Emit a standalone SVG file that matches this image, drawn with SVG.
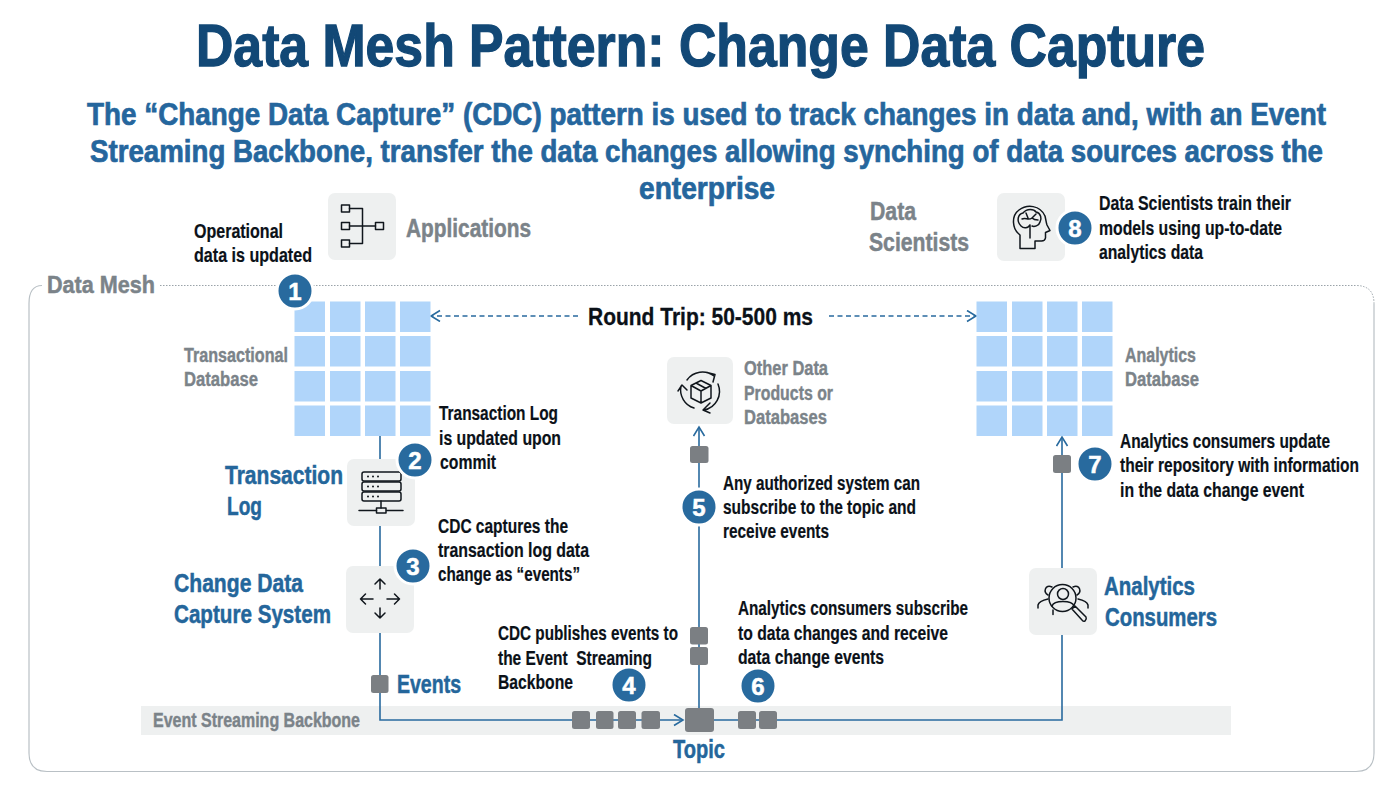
<svg xmlns="http://www.w3.org/2000/svg" width="1400" height="788" viewBox="0 0 1400 788">
<style>
text{font-family:"Liberation Sans Narrow","Liberation Sans",Arial,sans-serif;font-weight:700;}
.title{font-size:60px;fill:#124876;stroke:#124876;stroke-width:1.300}
.sub{font-size:31px;fill:#25669d;stroke:#25669d;stroke-width:.7}
.blk{font-size:20px;fill:#0b1118;stroke:#0b1118;stroke-width:.2}
.blue{font-size:26px;fill:#24669b;stroke:#24669b;stroke-width:.5}
.gry{font-size:26px;fill:#7b8389;stroke:#7b8389;stroke-width:.5}
.gs{font-size:20px;fill:#7b8389;stroke:#7b8389;stroke-width:.4}
.num{font-size:24px;fill:#fff;text-anchor:middle;stroke:#fff;stroke-width:.5}
.box{fill:#eef0f0}
.cell{fill:#b0d5fa}
.ev{fill:#7b7f83}
.badge{fill:#286a9e;stroke:#fff;stroke-width:3}
.ln{fill:none;stroke:#286a9e;stroke-width:1.600}
.dash{fill:none;stroke:#286a9e;stroke-width:1.500;stroke-dasharray:5 3.500}
.ic{fill:none;stroke:#10161c;stroke-width:1.500;stroke-linecap:round;stroke-linejoin:round}
</style>
<defs>
<marker id="open" markerWidth="14" markerHeight="14" refX="10" refY="6" orient="auto" markerUnits="userSpaceOnUse"><path d="M1 0.500 L10 6 L1 11.500" fill="none" stroke="#286a9e" stroke-width="1.600"/></marker>
<g id="grid">
<rect class="cell" x="0" y="0" width="30.500" height="30.500"/><rect class="cell" x="35.500" y="0" width="30.500" height="30.500"/><rect class="cell" x="70.500" y="0" width="30.500" height="30.500"/><rect class="cell" x="105.500" y="0" width="30.500" height="30.500"/>
<rect class="cell" x="0" y="34.500" width="30.500" height="30.500"/><rect class="cell" x="35.500" y="34.500" width="30.500" height="30.500"/><rect class="cell" x="70.500" y="34.500" width="30.500" height="30.500"/><rect class="cell" x="105.500" y="34.500" width="30.500" height="30.500"/>
<rect class="cell" x="0" y="69.500" width="30.500" height="30.500"/><rect class="cell" x="35.500" y="69.500" width="30.500" height="30.500"/><rect class="cell" x="70.500" y="69.500" width="30.500" height="30.500"/><rect class="cell" x="105.500" y="69.500" width="30.500" height="30.500"/>
<rect class="cell" x="0" y="104" width="30.500" height="30.500"/><rect class="cell" x="35.500" y="104" width="30.500" height="30.500"/><rect class="cell" x="70.500" y="104" width="30.500" height="30.500"/><rect class="cell" x="105.500" y="104" width="30.500" height="30.500"/>
</g>
</defs>
<rect width="1400" height="788" fill="#fff"/>
<g id="heading">
<text class="title" x="196" y="65.500" textLength="1009" lengthAdjust="spacingAndGlyphs">Data Mesh Pattern: Change Data Capture</text>
<text class="sub" transform="translate(87 125) scale(.9 1)" x="0" y="0" textLength="1376.700" lengthAdjust="spacingAndGlyphs">The “Change Data Capture” (CDC) pattern is used to track changes in data and, with an Event</text>
<text class="sub" transform="translate(90 162) scale(.9 1)" x="0" y="0" textLength="1370" lengthAdjust="spacingAndGlyphs">Streaming Backbone, transfer the data changes allowing synching of data sources across the</text>
<text class="sub" x="639" y="199" textLength="136" lengthAdjust="spacingAndGlyphs">enterprise</text>
</g>
<g id="data-mesh">
<path d="M160 285.500H1356Q1374 285.500 1374 303.500" fill="none" stroke="#9aa3a9" stroke-width="1" stroke-dasharray="1.500 1.500"/>
<path d="M42 285.500Q29 285.500 29 303.500V753Q29 771.500 47 771.500H1356Q1374 771.500 1374 753V303.500" fill="none" stroke="#b9c0c5" stroke-width="1.200"/>
<text class="gry" x="47" y="293" style="font-size:24px" textLength="108" lengthAdjust="spacingAndGlyphs">Data Mesh</text>
</g>
<g id="event-streaming-backbone">
<rect class="box" x="141" y="706" width="1090" height="29"/>
<text class="gs" x="153" y="727" textLength="207" lengthAdjust="spacingAndGlyphs">Event Streaming Backbone</text>
</g>
<g id="connectors">
<path class="ln" d="M380 436V459M380 526V566M380 633V720H683" marker-end="url(#open)"/>
<path class="ln" d="M699 708V427" marker-end="url(#open)"/>
<path class="ln" d="M714 720H1062V635M1062 568V437" marker-end="url(#open)"/>
<path class="dash" d="M578 316H431" marker-end="url(#open)"/>
<path class="dash" d="M829 316H976" marker-end="url(#open)"/>
</g>
<g id="transactional-database">
<use href="#grid" x="294.500" y="301.500"/>
<text class="gs" x="184" y="362" textLength="104" lengthAdjust="spacingAndGlyphs">Transactional</text>
<text class="gs" x="184" y="386" textLength="74" lengthAdjust="spacingAndGlyphs">Database</text>
</g>
<g id="analytics-database">
<use href="#grid" x="976.500" y="301.500"/>
<text class="gs" x="1125" y="362" textLength="71" lengthAdjust="spacingAndGlyphs">Analytics</text>
<text class="gs" x="1125" y="386" textLength="74" lengthAdjust="spacingAndGlyphs">Database</text>
</g>
<g id="round-trip"><text x="588" y="325" style="font-size:24px;fill:#0b1118;stroke:#0b1118;stroke-width:.3" textLength="225" lengthAdjust="spacingAndGlyphs">Round Trip: 50-500 ms</text></g>
<g id="applications">
<rect class="box" x="328" y="193" width="68" height="67" rx="7"/>
<g class="ic"><rect x="341.500" y="205" width="8" height="7"/><rect x="341.500" y="222.500" width="8" height="7"/><rect x="341.500" y="240" width="8" height="7"/><rect x="375.500" y="222.500" width="8" height="7"/><path d="M349.500 208.500H362.500V243.500H349.500M349.500 226H375.500"/></g>
<text class="gry" x="406" y="237" textLength="125" lengthAdjust="spacingAndGlyphs">Applications</text>
</g>
<g id="data-scientists">
<rect class="box" x="997" y="193" width="68" height="68" rx="7"/>
<g class="ic"><path d="M1020 248.500V235C1012 229 1011 216 1019 210C1027 204 1040 205 1045 216C1046 220 1046 222 1047 225L1050 230.500L1045.500 232.500V238Q1045 241 1041.500 241H1035V248.500Z"/><path d="M1021 226C1016 221 1018 214 1023 213C1027 208 1034 209 1036 212C1041 213 1042 219 1040 222C1039 226 1034 227 1032 226M1021 226C1024 229 1028 228 1030 225M1030 225V238M1022 219C1026 217 1028 221 1032 218L1036 214M1032 218C1034 220 1036 220 1038 220M1026 213L1028 218"/></g>
<text class="gry" x="870" y="220" textLength="46" lengthAdjust="spacingAndGlyphs">Data</text>
<text class="gry" x="869" y="251" textLength="100" lengthAdjust="spacingAndGlyphs">Scientists</text>
</g>
<g id="transaction-log">
<rect class="box" x="347" y="459" width="68" height="67" rx="7"/>
<g class="ic"><rect x="362" y="472" width="39" height="9" rx="2"/><rect x="362" y="482" width="39" height="9" rx="2"/><rect x="362" y="492" width="39" height="9" rx="2"/><path d="M381 501V508M359 510.500H376.500M386.500 510.500H403"/><rect x="376.500" y="508" width="9.500" height="5"/></g>
<g fill="#10161c"><circle cx="368" cy="476.500" r="1"/><circle cx="373" cy="476.500" r="1"/><circle cx="378" cy="476.500" r="1"/><circle cx="368" cy="486.500" r="1"/><circle cx="373" cy="486.500" r="1"/><circle cx="378" cy="486.500" r="1"/><circle cx="368" cy="496.500" r="1"/><circle cx="373" cy="496.500" r="1"/><circle cx="378" cy="496.500" r="1"/></g>
<text class="blue" x="225" y="484" textLength="118" lengthAdjust="spacingAndGlyphs">Transaction</text>
<text class="blue" x="227" y="515" textLength="35" lengthAdjust="spacingAndGlyphs">Log</text>
</g>
<g id="cdc-system">
<rect class="box" x="346" y="566" width="68" height="67" rx="7"/>
<path class="ic" d="M380 589V579M375 584L380 579L385 584M380 608V618M375 613L380 618L385 613M373 599H360.500M365.500 594L360.500 599L365.500 604M387 599H399.500M394.500 594L399.500 599L394.500 604"/>
<text class="blue" x="174" y="592" textLength="129" lengthAdjust="spacingAndGlyphs">Change Data</text>
<text class="blue" x="174" y="623" textLength="157" lengthAdjust="spacingAndGlyphs">Capture System</text>
</g>
<g id="other-data-products">
<rect class="box" x="667" y="357" width="66" height="67" rx="7"/>
<g class="ic"><path d="M701 380.500L711 385.500V398L701 403L691 398V385.500ZM691 385.500L701 391L711 385.500M701 391V403M696 383L706 388.500"/><path d="M687 380A19 19 0 0 1 714 376M707 372.500L715 374.500L713 382M718 384A19 19 0 0 1 704 410M710 403L703 410L710 413M694 408A19 19 0 0 1 681 386M678 391L682 385L687 390"/></g>
<text class="gs" x="744" y="375" textLength="84" lengthAdjust="spacingAndGlyphs">Other Data</text>
<text class="gs" x="744" y="400" textLength="89" lengthAdjust="spacingAndGlyphs">Products or</text>
<text class="gs" x="744" y="424" textLength="83" lengthAdjust="spacingAndGlyphs">Databases</text>
</g>
<g id="analytics-consumers">
<rect class="box" x="1029" y="568" width="68" height="67" rx="7"/>
<g class="ic"><circle cx="1062.500" cy="598" r="13.500"/><circle cx="1063" cy="594" r="5.500"/><path d="M1052 606C1054 600 1072 600 1074 606M1072 609L1075 606L1086 617Q1087 619 1085 621Q1083 622 1082 620Z"/><path d="M1052 587C1045 584 1043 592 1048 595M1073 587C1080 584 1082 592 1077 595M1038 608V605Q1039 601 1048 599M1088 608V605Q1087 601 1078 599M1053 610V614.500"/></g>
<text class="blue" x="1104" y="595" textLength="91" lengthAdjust="spacingAndGlyphs">Analytics</text>
<text class="blue" x="1105" y="626" textLength="112" lengthAdjust="spacingAndGlyphs">Consumers</text>
</g>
<g id="events">
<rect class="ev" x="371" y="675" width="17.500" height="18" rx="2.500"/>
<text class="blue" x="397" y="693" textLength="64" lengthAdjust="spacingAndGlyphs">Events</text>
<rect class="ev" x="572" y="711" width="18" height="18" rx="2.500"/><rect class="ev" x="596" y="711" width="17.500" height="18" rx="2.500"/><rect class="ev" x="618" y="711" width="18" height="18" rx="2.500"/><rect class="ev" x="641.500" y="711" width="18.500" height="18" rx="2.500"/>
<rect class="ev" x="738" y="711" width="18" height="18" rx="2.500"/><rect class="ev" x="759" y="711" width="18" height="18" rx="2.500"/>
<rect class="ev" x="690" y="627" width="18" height="17.500" rx="2.500"/><rect class="ev" x="690" y="647" width="18" height="18" rx="2.500"/>
<rect class="ev" x="690" y="446" width="18.500" height="17" rx="2.500"/>
<rect class="ev" x="1053" y="455" width="18" height="18" rx="2.500"/>
</g>
<g id="topic">
<rect class="ev" x="685" y="708" width="29" height="24" rx="3"/>
<text class="blue" x="673" y="758" textLength="52" lengthAdjust="spacingAndGlyphs">Topic</text>
</g>
<g id="step-1"><circle class="badge" cx="295" cy="291" r="18"/><text class="num" x="295" y="300">1</text>
<text class="blk" x="194" y="238" textLength="89" lengthAdjust="spacingAndGlyphs">Operational</text><text class="blk" x="194" y="262" textLength="118" lengthAdjust="spacingAndGlyphs">data is updated</text></g>
<g id="step-2"><circle class="badge" cx="415" cy="460" r="18"/><text class="num" x="415" y="469">2</text>
<text class="blk" x="439" y="420" textLength="119" lengthAdjust="spacingAndGlyphs">Transaction Log</text><text class="blk" x="439" y="445" textLength="122" lengthAdjust="spacingAndGlyphs">is updated upon</text><text class="blk" x="440" y="469" textLength="56" lengthAdjust="spacingAndGlyphs">commit</text></g>
<g id="step-3"><circle class="badge" cx="413" cy="566" r="18"/><text class="num" x="413" y="575">3</text>
<text class="blk" x="438" y="533" textLength="130" lengthAdjust="spacingAndGlyphs">CDC captures the</text><text class="blk" x="438" y="557" textLength="151" lengthAdjust="spacingAndGlyphs">transaction log data</text><text class="blk" x="438" y="581" textLength="142" lengthAdjust="spacingAndGlyphs">change as “events”</text></g>
<g id="step-4"><circle class="badge" cx="629" cy="685" r="18"/><text class="num" x="629" y="694">4</text>
<text class="blk" x="498" y="640" textLength="180" lengthAdjust="spacingAndGlyphs">CDC publishes events to</text><text class="blk" x="498" y="665" textLength="154" lengthAdjust="spacingAndGlyphs" xml:space="preserve">the Event  Streaming</text><text class="blk" x="498" y="689" textLength="75" lengthAdjust="spacingAndGlyphs">Backbone</text></g>
<g id="step-5"><circle class="badge" cx="699" cy="507" r="18"/><text class="num" x="699" y="516">5</text>
<text class="blk" x="723" y="490" textLength="197" lengthAdjust="spacingAndGlyphs">Any authorized system can</text><text class="blk" x="723" y="514" textLength="193" lengthAdjust="spacingAndGlyphs">subscribe to the topic and</text><text class="blk" x="723" y="538" textLength="106" lengthAdjust="spacingAndGlyphs">receive events</text></g>
<g id="step-6"><circle class="badge" cx="758" cy="686" r="18"/><text class="num" x="758" y="695">6</text>
<text class="blk" x="738" y="615" textLength="230" lengthAdjust="spacingAndGlyphs">Analytics consumers subscribe</text><text class="blk" x="738" y="640" textLength="210" lengthAdjust="spacingAndGlyphs">to data changes and receive</text><text class="blk" x="738" y="664" textLength="146" lengthAdjust="spacingAndGlyphs">data change events</text></g>
<g id="step-7"><circle class="badge" cx="1095" cy="464" r="18"/><text class="num" x="1095" y="473">7</text>
<text class="blk" x="1120" y="448" textLength="210" lengthAdjust="spacingAndGlyphs">Analytics consumers update</text><text class="blk" transform="translate(1120 472) scale(.78 1)" x="0" y="0" textLength="306.400" lengthAdjust="spacingAndGlyphs">their repository with information</text><text class="blk" x="1120" y="497" textLength="184" lengthAdjust="spacingAndGlyphs">in the data change event</text></g>
<g id="step-8"><circle class="badge" cx="1075" cy="228" r="18"/><text class="num" x="1075" y="237">8</text>
<text class="blk" x="1099" y="210" textLength="192" lengthAdjust="spacingAndGlyphs">Data Scientists train their</text><text class="blk" x="1099" y="235" textLength="183" lengthAdjust="spacingAndGlyphs">models using up-to-date</text><text class="blk" x="1099" y="259" textLength="104" lengthAdjust="spacingAndGlyphs">analytics data</text></g>
</svg>
